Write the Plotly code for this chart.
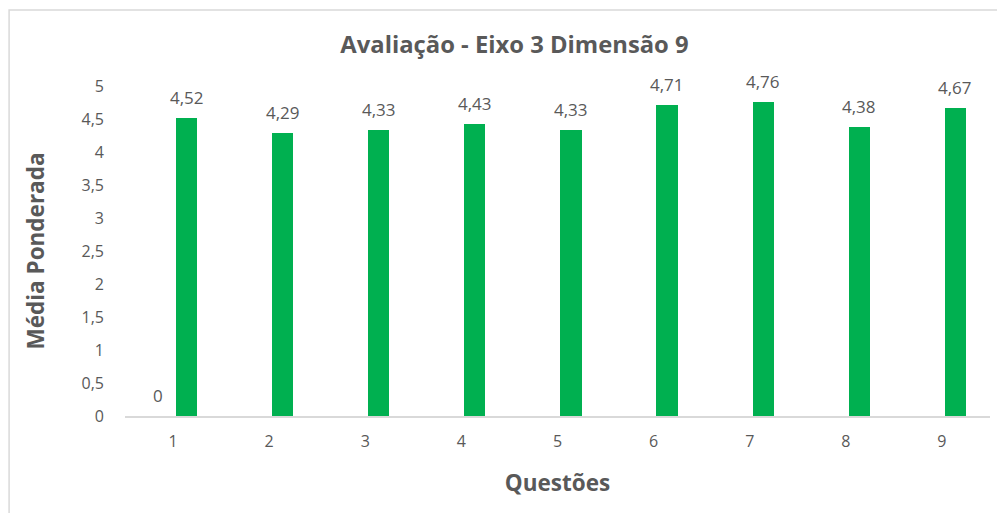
import plotly.graph_objects as go

questions = [1, 2, 3, 4, 5, 6, 7, 8, 9]
media = [4.52, 4.29, 4.33, 4.43, 4.33, 4.71, 4.76, 4.38, 4.67]
zero_series_q = [1]
zero_series_v = [0]
y_ticks = [0, 0.5, 1, 1.5, 2, 2.5, 3, 3.5, 4, 4.5, 5]

GREEN = "#00B050"
GRAY = "#595959"
FONT = "Open Sans"
BAR_W = 0.22
BAR_OFF = 0.03
ZERO_OFF = -0.27


def fmt(v):
    s = f"{v:.2f}".rstrip("0").rstrip(".") if v != 0 else "0"
    return s.replace(".", ",")


fig = go.Figure()
fig.add_trace(go.Bar(
    x=zero_series_q, y=zero_series_v, width=BAR_W, offset=ZERO_OFF,
    marker=dict(color="rgba(0,0,0,0)", line=dict(width=0)), showlegend=False, hoverinfo="skip",
))
fig.add_trace(go.Bar(
    x=questions, y=media, width=BAR_W, offset=BAR_OFF,
    marker=dict(color=GREEN, line=dict(width=0)), showlegend=False,
))

for q, v in zip(questions, media):
    fig.add_annotation(x=q + BAR_OFF + BAR_W / 2, y=v, text=fmt(v), showarrow=False,
                       yanchor="bottom", yshift=7, font=dict(size=17, color=GRAY, family=FONT))
for q, v in zip(zero_series_q, zero_series_v):
    fig.add_annotation(x=q + ZERO_OFF + BAR_W / 2, y=v, text=fmt(v), showarrow=False,
                       yanchor="bottom", yshift=7, font=dict(size=17, color=GRAY, family=FONT))

fig.add_shape(type="rect", xref="paper", yref="paper", x0=-0.134, x1=1.016, y0=-0.32, y1=1.230,
              line=dict(color="#D9D9D9", width=1.5), fillcolor="rgba(0,0,0,0)", layer="below")

fig.update_layout(
    width=997, height=505,
    margin=dict(l=117, r=15, t=78, b=97),
    paper_bgcolor="white", plot_bgcolor="white",
    separators=",.",
    font=dict(family=FONT, color=GRAY, size=16),
    title=dict(text="<b>Avaliação - Eixo 3 Dimensão 9</b>", x=0.508, xref="container", xanchor="center",
               y=0.927, yref="container", yanchor="middle", font=dict(size=23.8, color=GRAY, family=FONT)),
    bargap=0,
)
fig.update_xaxes(
    range=[0.5, 9.5], tickvals=questions, ticktext=[str(q) for q in questions],
    showgrid=False, zeroline=False, showline=True, linecolor="#D9D9D9", linewidth=1.5,
    ticks="", ticklabelstandoff=10, tickfont=dict(size=16, color=GRAY),
    title=dict(text="<b>Questões</b>", font=dict(size=22.5, color=GRAY), standoff=24),
)
fig.update_yaxes(
    range=[0, 5], tickvals=y_ticks, showgrid=False, zeroline=False, showline=False,
    ticks="", ticklabelstandoff=20, tickfont=dict(size=16, color=GRAY),
    title=dict(text="<b>Média Ponderada</b>", font=dict(size=22.5, color=GRAY), standoff=30),
)

fig.write_html("out.html")
